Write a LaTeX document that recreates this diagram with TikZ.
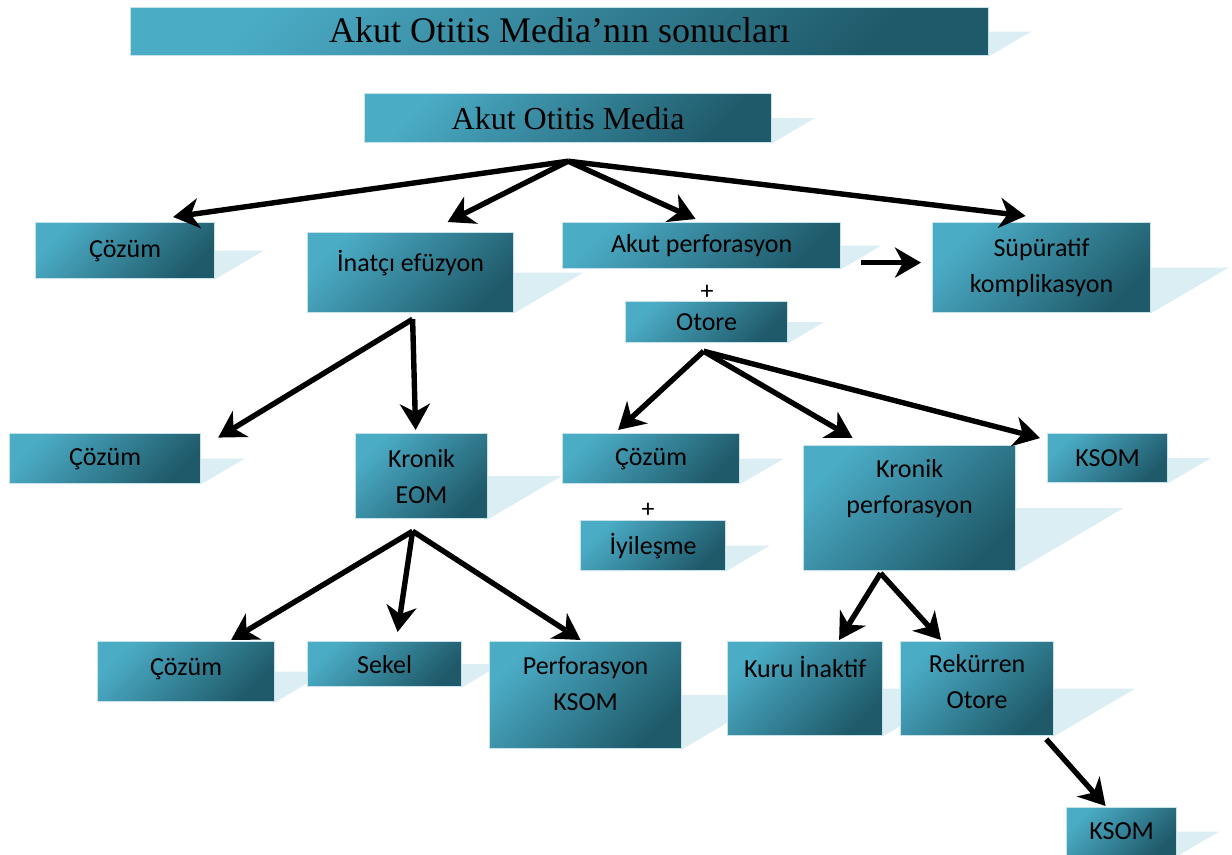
\documentclass[tikz,border=0pt]{standalone}
\usepackage{fontspec}
\setmainfont{Carlito}
\newfontfamily\titlefont{Liberation Serif}
\usetikzlibrary{arrows.meta,calc,backgrounds}
\definecolor{boxlight}{HTML}{4BACC6}
\definecolor{boxdark}{HTML}{1F5A6A}
\definecolor{boxedge}{HTML}{C8E2EA}
\definecolor{shadowblue}{HTML}{DAEEF3}

\begin{document}
\begin{tikzpicture}[x=0.5pt,y=-0.5pt,->,>={Stealth[length=13pt,width=15pt,inset=4pt]},line width=2.7pt,
    box/.style={anchor=north west,draw=boxedge,line width=0.6pt,top color=boxlight,bottom color=boxdark,shading angle=45,font=\fontsize{13}{18}\selectfont,align=center,inner sep=2pt},
    title box/.style={box,font=\titlefont\fontsize{18}{20}\selectfont},
    plus/.style={font=\fontsize{13}{15}\selectfont}]

    \useasboundingbox (0,0) rectangle (1232,855);

    % top row
    \node[title box,minimum width=429pt,minimum height=24pt,text depth=2pt] (t) at (130,7) {Akut Otitis Media’nın sonucları};
    \node[title box,font=\titlefont\fontsize{16}{18}\selectfont,minimum width=203.5pt,minimum height=24.5pt] (aom) at (364,93) {Akut Otitis Media};

    \node[box,minimum width=89.5pt,minimum height=28pt] (c1) at (35,222) {Çözüm};
    \node[box,minimum width=103pt,minimum height=40pt,text depth=11.6pt] (ie) at (307,232) {İnatçı efüzyon};
    \node[box,minimum width=139pt,minimum height=23pt] (ap) at (562,222) {Akut perforasyon};
    \node[box,minimum width=109pt,minimum height=45pt] (sup) at (932,222) {Süpüratif\\komplikasyon};
    \node[plus] (p1) at (707,292) {+};
    \node[box,minimum width=81pt,minimum height=20.5pt] (ot) at (625,301) {Otore};

    % middle row
    \node[box,minimum width=95.5pt,minimum height=25pt] (c2) at (9,433) {Çözüm};
    \node[box,minimum width=66pt,minimum height=42.5pt] (keom) at (355,433) {Kronik\\EOM};
    \node[box,minimum width=88.5pt,minimum height=25pt] (c3) at (562,433) {Çözüm};
    \node[plus] (p2) at (648,510) {+};
    \node[box,minimum width=72.5pt,minimum height=25pt] (iy) at (580,520) {İyileşme};
    \node[box,minimum width=106pt,minimum height=62.5pt,text depth=22pt] (kp) at (803,445) {Kronik\\perforasyon};
    \node[box,minimum width=60pt,minimum height=24.5pt] (k1) at (1047,433) {KSOM};

    % bottom row
    \node[box,minimum width=88.5pt,minimum height=30pt,text depth=5pt] (c4) at (97,641) {Çözüm};
    \node[box,minimum width=77pt,minimum height=22.5pt] (sk) at (307,641) {Sekel};
    \node[box,minimum width=96pt,minimum height=53.5pt,text depth=12pt] (pk) at (489,641) {Perforasyon\\KSOM};
    \node[box,minimum width=77.5pt,minimum height=47pt,text depth=22pt] (ki) at (727,641) {Kuru İnaktif};
    \node[box,minimum width=76.5pt,minimum height=47pt,text depth=7pt] (ro) at (900,641) {Rekürren\\Otore};
    \node[box,minimum width=55pt,minimum height=24pt] (k2) at (1066,807) {KSOM};

    % shadows
    \begin{scope}[on background layer]
        \foreach \b in {t,aom,c1,ie,ap,sup,ot,c2,keom,c3,iy,kp,k1,c4,sk,pk,ki,ro,k2}
            \fill[-,shadowblue] let \p1=(\b.south west), \p2=(\b.north east),
                \n1={0.85*(\y2-\y1)}, \n2={0.5*(\y2-\y1)} in
                (\x1,\y1) -- (\x2,\y1) -- (\x2+\n1,\y1+\n2) -- (\x1+\n1,\y1+\n2) -- cycle;
    \end{scope}

    % arrows
    \coordinate (aomout) at ([shift={(0,18)}]aom.south);
    \coordinate (ieout) at ([shift={(2,6)}]ie.south);
    \coordinate (otout) at ([shift={(-3,8)}]ot.south);
    \coordinate (keout) at ([shift={(-9,12)}]keom.south);
    \coordinate (kpout) at ([shift={(-29,2)}]kp.south);
    \coordinate (roout) at ([shift={(-8,3)}]ro.south east);
    \coordinate (apout) at ([shift={(20,17)}]ap.east);

    \foreach \b/\a/\dx/\dy in {c1/north/48/-5, ie/north/37/-10, ap/north/-6/-3, sup/north/-16/-6}
        \draw (aomout) -- ([shift={(\dx,\dy)}]\b.\a);
    \foreach \b/\a/\dx/\dy in {c2/east/17/-21, keom/north/-6/-3}
        \draw (ieout) -- ([shift={(\dx,\dy)}]\b.\a);
    \foreach \b/\a/\dx/\dy in {c3/north/-33/-3, kp/north/-57/-7, k1/west/-7/-20}
        \draw (otout) -- ([shift={(\dx,\dy)}]\b.\a);
    \foreach \b/\a/\dx/\dy in {c4/north/45/-1, sk/north/13/-9, pk/north/-5/-1}
        \draw (keout) -- ([shift={(\dx,\dy)}]\b.\a);
    \foreach \b/\a/\dx/\dy in {ki/north/34/-1, ro/north/-36/-1}
        \draw (kpout) -- ([shift={(\dx,\dy)}]\b.\a);
    \draw (roout) -- ([shift={(-16,-1)}]k2.north);
    \draw (apout) -- ([shift={(-11,-5)}]sup.west);

\end{tikzpicture}
\end{document}
